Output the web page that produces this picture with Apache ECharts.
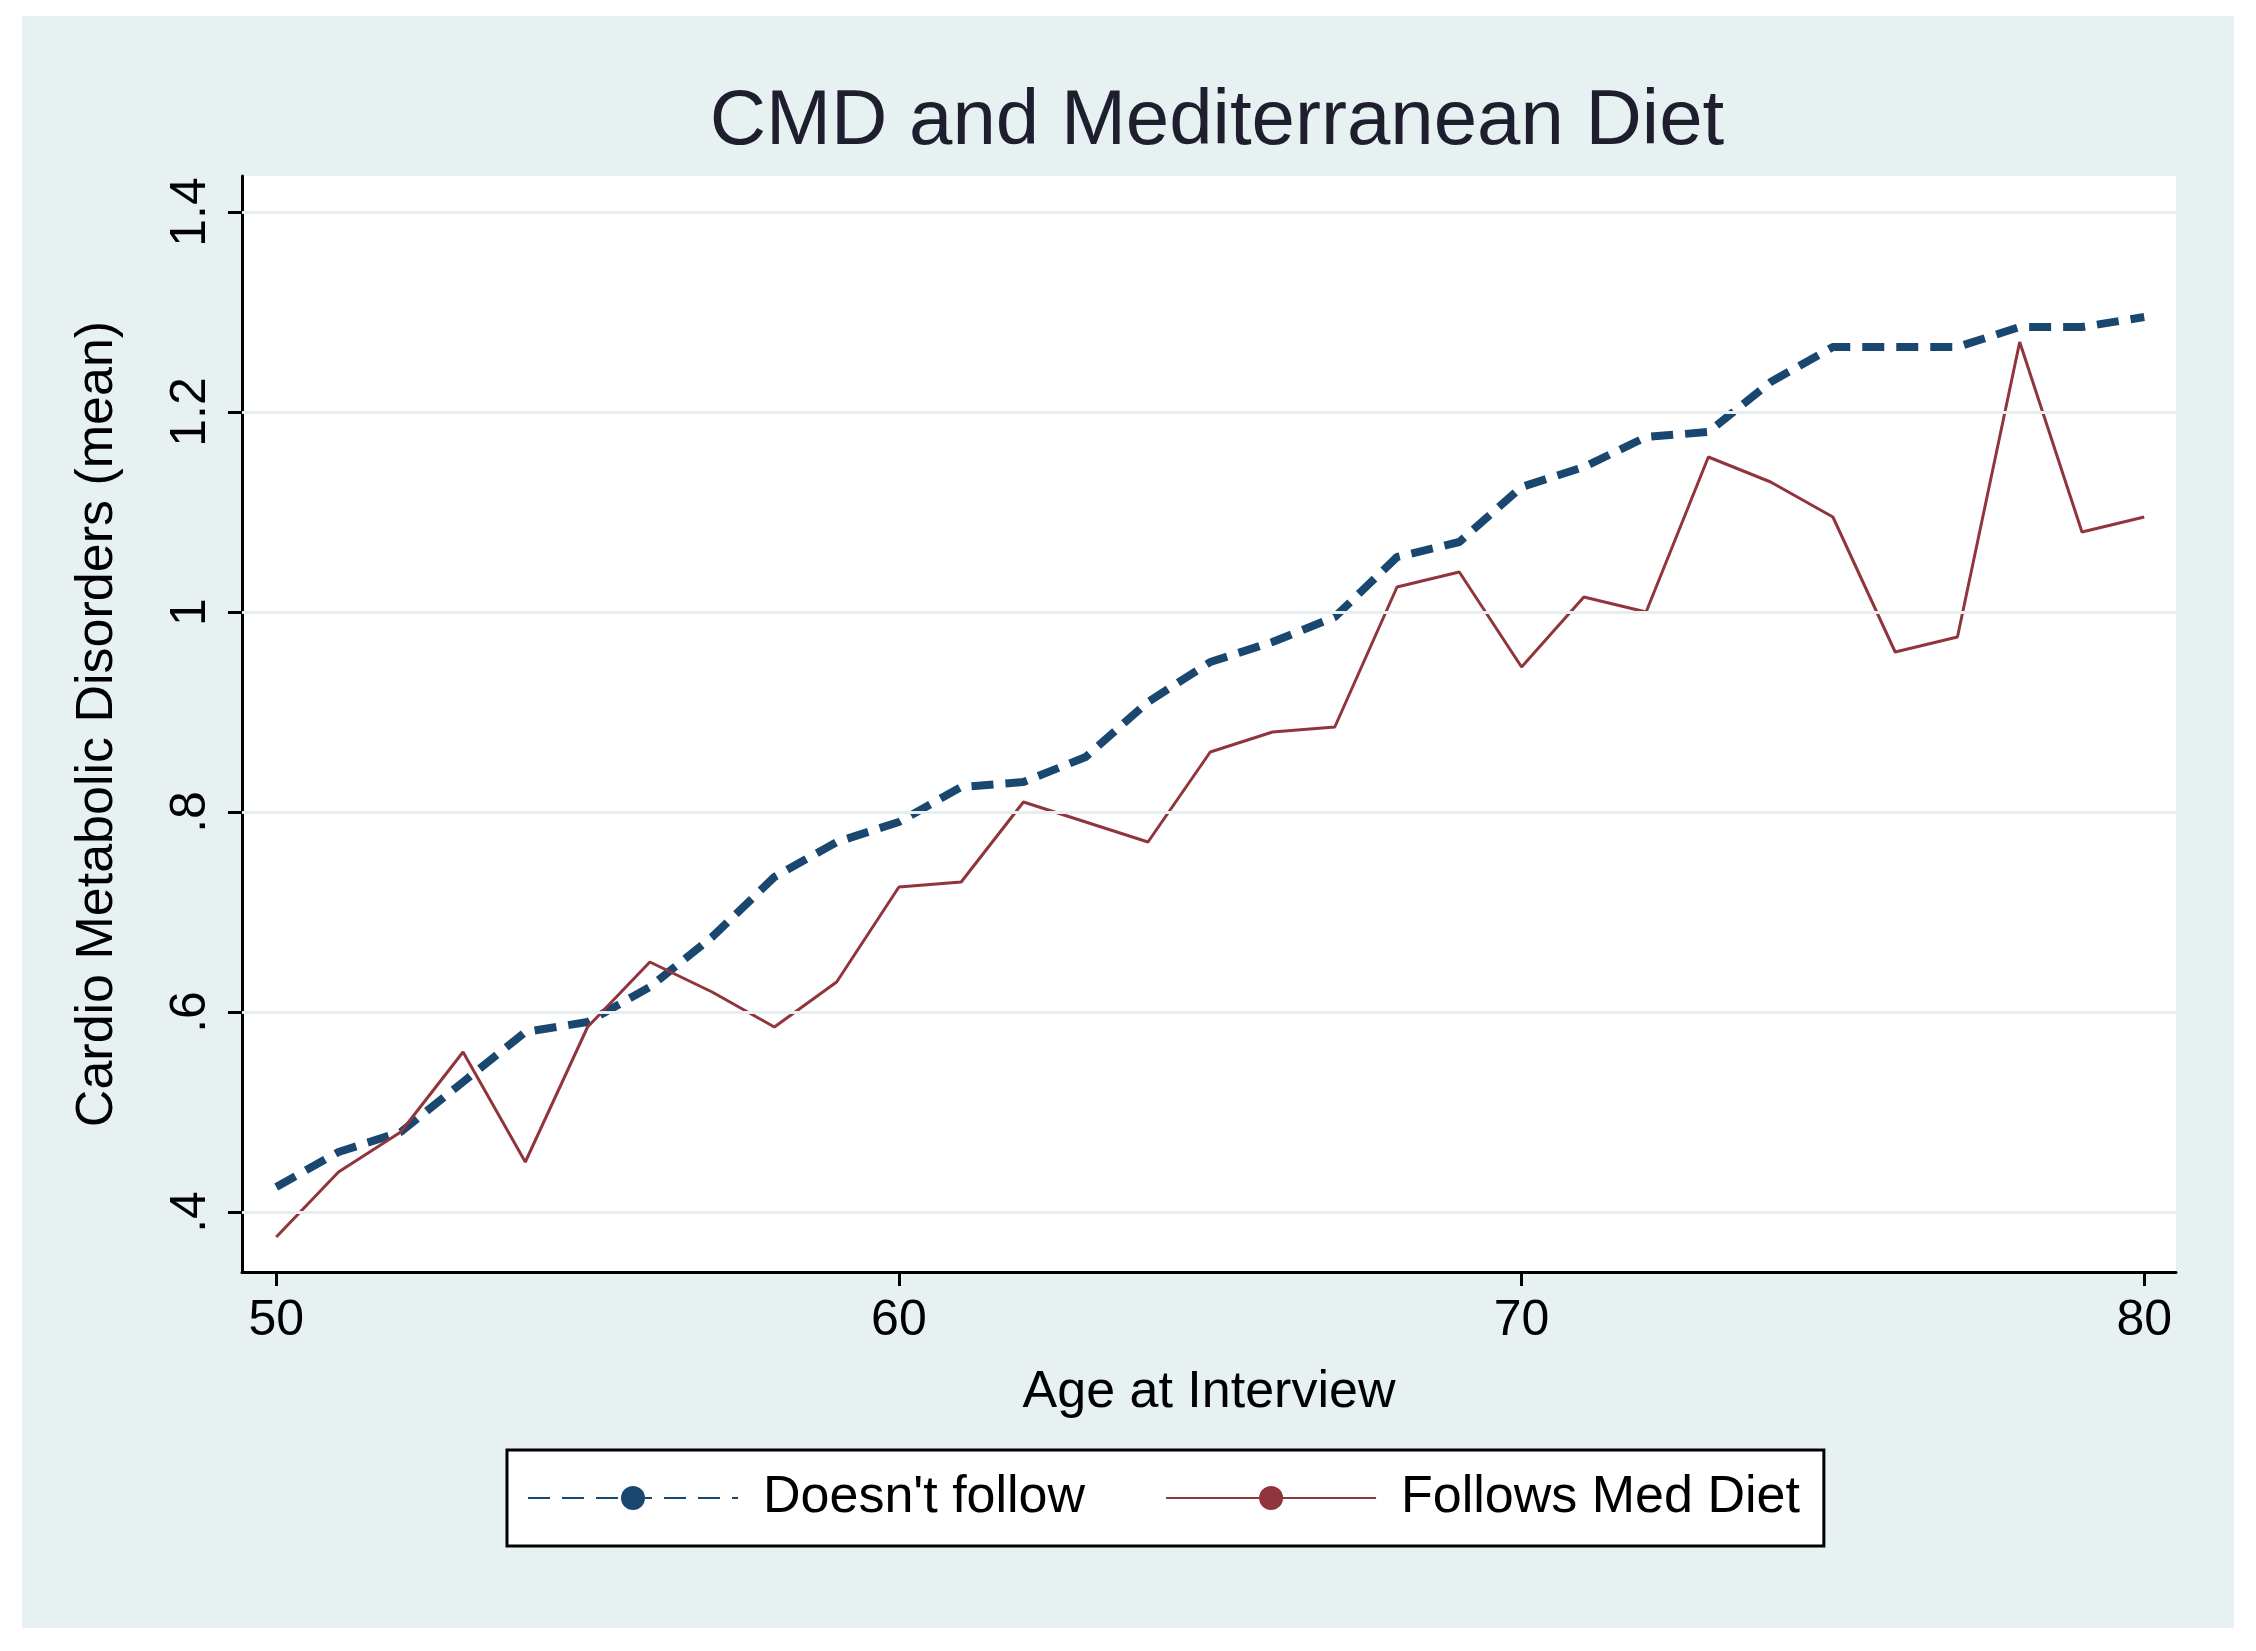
<!DOCTYPE html>
<html>
<head>
<meta charset="UTF-8">
<script src="https://cdn.jsdelivr.net/npm/echarts@6/dist/echarts.min.js"></script>
<style>
  html, body { margin: 0; padding: 0; background: #fff; }
  #chart { width: 2256px; height: 1651px; }
</style>
</head>
<body>
<div id="chart"></div>
<script>
  // ages 50..80
  const ages = [];
  for (let a = 50; a <= 80; a++) ages.push(a);
  const doesntFollow = [0.425, 0.46, 0.48, 0.53, 0.58, 0.59, 0.625, 0.675, 0.735, 0.77, 0.79,
    0.825, 0.83, 0.855, 0.91, 0.95, 0.97, 0.995, 1.055, 1.07, 1.125,
    1.145, 1.175, 1.18, 1.23, 1.265, 1.265, 1.265, 1.285, 1.285, 1.295];
  const followsMed = [0.375, 0.44, 0.48, 0.56, 0.45, 0.585, 0.65, 0.62, 0.585, 0.63, 0.725,
    0.73, 0.81, 0.79, 0.77, 0.86, 0.88, 0.885, 1.025, 1.04, 0.945,
    1.015, 1.0, 1.155, 1.13, 1.095, 0.96, 0.975, 1.27, 1.08, 1.095];
  const xTicks = [50, 60, 70, 80];
  const yTicks = [0.4, 0.6, 0.8, 1.0, 1.2, 1.4];

  const pair = arr => ages.map((a, i) => [a, arr[i]]);
  const yFmt = v => (Math.round(v * 10) / 10).toString().replace(/^0\./, '.');

  const chart = echarts.init(document.getElementById('chart'));
  chart.setOption({
    animation: false,
    textStyle: { fontFamily: 'Arial, Liberation Sans, sans-serif' },
    graphic: [{
      type: 'rect', z: -10, silent: true,
      shape: { x: 22, y: 16, width: 2212, height: 1612 },
      style: { fill: '#e8f1f2' }
    }, {
      type: 'rect', z: -9, silent: true,
      shape: { x: 242, y: 176, width: 1934, height: 1096 },
      style: { fill: '#ffffff' }
    }],
    title: {
      text: 'CMD and Mediterranean Diet', left: 1212, top: 78, textAlign: 'center',
      textStyle: { fontSize: 78, fontWeight: 'normal', color: '#1e1e2e' }
    },
    grid: { left: 242, right: 80, top: 176, bottom: 379 },
    xAxis: {
      type: 'value', min: 49.45, max: 80.51,
      name: 'Age at Interview', nameLocation: 'middle', nameGap: 95,
      nameTextStyle: { fontSize: 52, color: '#000' },
      axisLine: { show: true, onZero: false, lineStyle: { color: '#000', width: 3 } },
      axisTick: { show: true, customValues: xTicks, length: 14, lineStyle: { color: '#000', width: 3 } },
      axisLabel: { customValues: xTicks, fontSize: 50, color: '#000', margin: 24 },
      splitLine: { show: false }
    },
    yAxis: {
      type: 'value', min: 0.34, max: 1.436,
      name: 'Cardio Metabolic Disorders (mean)', nameLocation: 'middle', nameGap: 118,
      nameTextStyle: { fontSize: 52, color: '#000' },
      axisLine: { show: true, onZero: false, lineStyle: { color: '#000', width: 3 } },
      axisTick: { show: true, customValues: yTicks, length: 14, lineStyle: { color: '#000', width: 3 } },
      axisLabel: { customValues: yTicks, fontSize: 50, color: '#000', rotate: 90, margin: 26, formatter: yFmt },
      splitLine: { show: false }
    },
    legend: {
      left: 507, top: 1450,
      padding: [22, 24, 22, 20], itemGap: 80, itemWidth: 210, itemHeight: 30,
      borderColor: '#000', borderWidth: 3, backgroundColor: '#fff',
      textStyle: { fontSize: 52, color: '#000', padding: [0, 0, 0, 20] },
      data: ["Doesn't follow", 'Follows Med Diet']
    },
    series: [{
      type: 'line', name: '_grid', silent: true, data: [], symbol: 'none',
      markLine: {
        silent: true, symbol: 'none', label: { show: false },
        lineStyle: { color: '#e6eef0', width: 3, type: 'solid' },
        data: yTicks.map(v => ({ yAxis: v }))
      }
    }, {
      type: 'line', name: "Doesn't follow", data: pair(doesntFollow), symbol: 'none',
      itemStyle: { color: '#1a476f' },
      lineStyle: { color: '#1a476f', width: 8, type: [22, 12] }, z: 3
    }, {
      type: 'line', name: 'Follows Med Diet', data: pair(followsMed), symbol: 'none',
      itemStyle: { color: '#90353b' },
      lineStyle: { color: '#90353b', width: 3 }, z: 4
    }]
  });
</script>
</body>
</html>
